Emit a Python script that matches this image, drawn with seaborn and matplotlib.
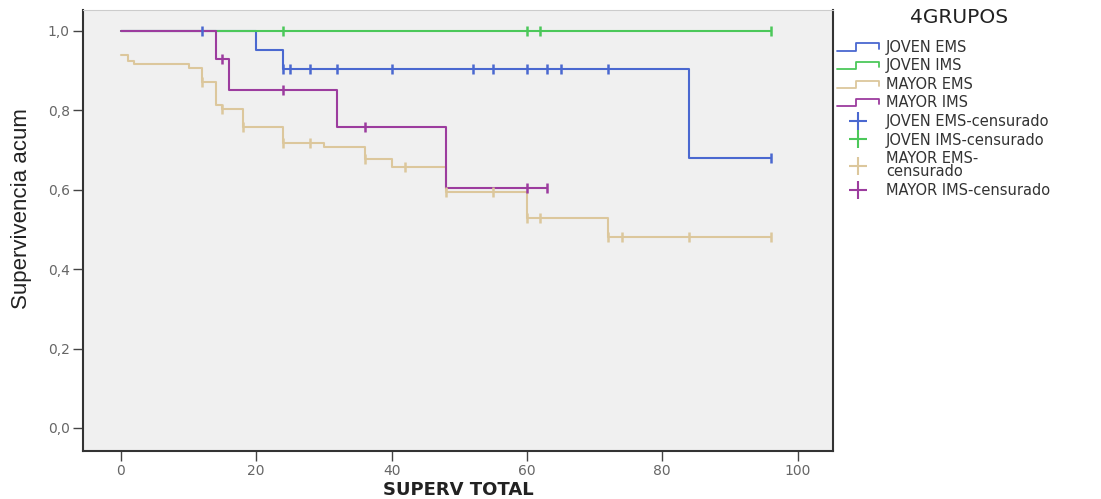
import numpy as np
import pandas as pd
import seaborn as sns
import matplotlib.pyplot as plt
from matplotlib.lines import Line2D
from matplotlib.legend_handler import HandlerBase

sns.set_style("white")

groups = ["JOVEN EMS", "JOVEN IMS", "MAYOR EMS", "MAYOR IMS"]
colors = ["#4a68d0", "#4cc85a", "#dcc79c", "#9c3c9e"]

# step points of each curve (time, cumulative survival)
t_joven_ems = [0, 20, 24, 84, 96]
s_joven_ems = [1.0, 0.952, 0.905, 0.680, 0.680]
c_joven_ems = [12, 24, 25, 28, 32, 40, 52, 55, 60, 63, 65, 72, 96]

t_joven_ims = [0, 96]
s_joven_ims = [1.0, 1.0]
c_joven_ims = [24, 60, 62, 96]

t_mayor_ems = [0, 1, 2, 10, 12, 14, 15, 18, 24, 30, 36, 40, 48, 60, 72, 96]
s_mayor_ems = [0.940, 0.925, 0.917, 0.907, 0.872, 0.814, 0.803, 0.758, 0.718,
               0.707, 0.677, 0.657, 0.595, 0.530, 0.480, 0.480]
c_mayor_ems = [12, 15, 18, 24, 28, 36, 42, 48, 55, 60, 62, 72, 74, 84, 96]

t_mayor_ims = [0, 14, 16, 32, 48, 63]
s_mayor_ims = [1.0, 0.929, 0.852, 0.757, 0.604, 0.604]
c_mayor_ims = [15, 24, 36, 60, 63]

curves = [(t_joven_ems, s_joven_ems, c_joven_ems),
          (t_joven_ims, s_joven_ims, c_joven_ims),
          (t_mayor_ems, s_mayor_ems, c_mayor_ems),
          (t_mayor_ims, s_mayor_ims, c_mayor_ims)]


class StepHandler(HandlerBase):
    def create_artists(self, legend, orig, xd, yd, w, h, fontsize, trans):
        xs = [xd, xd + 0.45 * w, xd + 0.45 * w, xd + w, xd + w]
        ys = [yd + 0.1 * h, yd + 0.1 * h, yd + 0.8 * h, yd + 0.8 * h, yd + 0.3 * h]
        ln = Line2D(xs, ys, color=orig.get_color(), lw=1.3, transform=trans)
        return [ln]


fig = plt.figure(figsize=(11.01, 4.99), dpi=100)
ax = fig.add_axes([0.0754, 0.0962, 0.681, 0.884])
ax.set_facecolor("#f0f0f0")

for (t, s, c), col in zip(curves, colors):
    df = pd.DataFrame({"t": t, "s": s})
    sns.lineplot(data=df, x="t", y="s", ax=ax, color=col, lw=1.5,
                 drawstyle="steps-post", estimator=None, sort=False)
    idx = np.searchsorted(t, c, side="right") - 1
    cdf = pd.DataFrame({"t": c, "s": np.array(s)[idx]})
    sns.scatterplot(data=cdf, x="t", y="s", ax=ax, color=col, marker="|",
                    s=45, linewidth=1.8, zorder=3)

ax.set_xlim(-5.6, 105.2)
ax.set_ylim(-0.058, 1.053)
ax.set_xticks([0, 20, 40, 60, 80, 100])
ax.set_yticks([0, 0.2, 0.4, 0.6, 0.8, 1.0])
ax.set_yticklabels(["0,0", "0,2", "0,4", "0,6", "0,8", "1,0"])
ax.tick_params(axis="both", direction="out", length=7.5, width=1, color="#444",
               labelcolor="#666", labelsize=10, left=True, bottom=True, pad=2)
for side in ["left", "bottom", "right"]:
    ax.spines[side].set_color("#333")
    ax.spines[side].set_linewidth(1.5)
ax.spines["top"].set_color("#cccccc")

ax.set_xlabel("SUPERV TOTAL", fontsize=13, fontweight="bold", color="#222", labelpad=2)
ax.set_ylabel("Supervivencia acum", fontsize=16, color="#222",
              family=["Liberation Sans Narrow", "Liberation Sans"])
ax.yaxis.set_label_coords(-0.068, 0.55)

fig.text(0.871, 0.964, "4GRUPOS", ha="center", va="center", fontsize=14.5, color="#222")

handles = [Line2D([], [], color=c) for c in colors]
handles += [Line2D([], [], color=c, marker="+", markersize=13, mew=1.5, ls="none")
            for c in colors]
labels = groups + ["JOVEN EMS-censurado", "JOVEN IMS-censurado",
                   "MAYOR EMS-\ncensurado", "MAYOR IMS-censurado"]
hmap = {h: StepHandler() for h in handles[:4]}
leg = fig.legend(handles, labels, handler_map=hmap,
                 loc="upper left", bbox_to_anchor=(0.7505, 0.941), frameon=False,
                 fontsize=10.5, handlelength=2.9, borderpad=0.2,
                 labelspacing=0.245, handletextpad=0.5, labelcolor="#333")
for txt in leg.get_texts():
    txt.set_linespacing(0.85)

fig.savefig("out.png", dpi=100)
